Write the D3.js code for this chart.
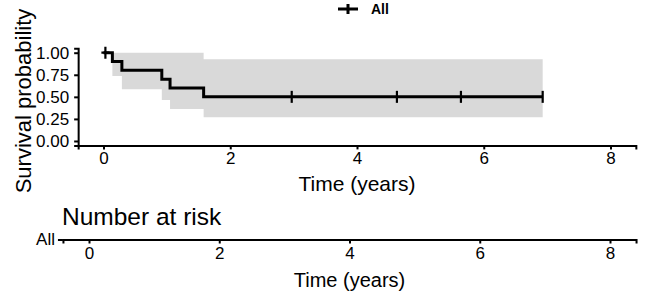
<!DOCTYPE html>
<html lang="en">
<head>
  <meta charset="UTF-8">
  <title>Kaplan-Meier survival curve</title>
  <script src="https://d3js.org/d3.v7.min.js"></script>
  <style>
    body { margin: 0; background: #fff; }
    svg { display: block; font-family: "Liberation Sans", Arial, sans-serif; }
    .axis path, .axis line { stroke: #000; stroke-width: 2px; }
    .axis text { fill: #000; }
  </style>
</head>
<body>
  <svg width="646" height="294"></svg>
  <script>
    // step data
    const times = [0, 0.14, 0.29, 0.92, 1.05, 1.58, 6.93];
    const surv  = [1, 0.9, 0.8, 0.7, 0.6, 0.5, 0.5];
    const lower = [1, 0.736, 0.585, 0.464, 0.362, 0.268, 0.268];
    const upper = [1, 1, 1, 1, 1, 0.925, 0.925];
    const censorTimes = [0.03, 2.97, 4.63, 5.64, 6.93];
    const xTicks = [0, 2, 4, 6, 8];
    const yTicks = [0, 0.25, 0.5, 0.75, 1];
    const strata = ["All"];

    const svg = d3.select("svg");
    const steps = times.map((t, i) => ({t, s: surv[i], lo: lower[i], hi: upper[i]}));

    // top panel scales (ggplot 5% expansion)
    const x = d3.scaleLinear().domain([-0.4, 8.4]).range([78.15, 635.85]);
    const y = d3.scaleLinear().domain([-0.05, 1.05]).range([145.4, 48.3]);

    // confidence band
    svg.append("path")
      .datum(steps)
      .attr("fill", "#d9d9d9")
      .attr("d", d3.area().curve(d3.curveStepAfter)
        .x(d => x(d.t)).y0(d => y(d.lo)).y1(d => y(d.hi)));

    // survival curve
    svg.append("path")
      .datum(steps)
      .attr("fill", "none")
      .attr("stroke", "#000")
      .attr("stroke-width", 3)
      .attr("d", d3.line().curve(d3.curveStepAfter).x(d => x(d.t)).y(d => y(d.s)));

    // censor marks
    const survAt = t => { let s = 1; steps.forEach(d => { if (d.t <= t) s = d.s; }); return s; };
    svg.selectAll(".censor")
      .data(censorTimes)
      .enter().append("path")
      .attr("class", "censor")
      .attr("stroke", "#000")
      .attr("stroke-width", 2.2)
      .attr("d", (t, i) => {
        const cy = y(survAt(t));
        return i === 0
          ? `M${x(t)},${cy - 6}V${cy + 6}M${x(t) - 4},${cy}H${x(t) + 4}`
          : `M${x(t)},${cy - 6}V${cy + 6}`;
      });

    // axes
    const xAxis = svg.append("g")
      .attr("class", "axis")
      .attr("transform", `translate(0,${y(-0.05)})`)
      .call(d3.axisBottom(x).tickValues(xTicks).tickSizeOuter(0).tickSize(4).tickPadding(3));
    xAxis.selectAll("text").style("font-size", "17px");

    const yAxis = svg.append("g")
      .attr("class", "axis")
      .attr("transform", `translate(${x(-0.4)},0)`)
      .call(d3.axisLeft(y).tickValues(yTicks).tickFormat(d3.format(".2f")).tickSizeOuter(0).tickSize(4).tickPadding(5));
    yAxis.selectAll("text").style("font-size", "17px");

    svg.append("text")
      .attr("x", (x(-0.4) + x(8.4)) / 2)
      .attr("y", 191)
      .attr("text-anchor", "middle")
      .style("font-size", "21px")
      .text("Time (years)");

    svg.append("text")
      .attr("transform", "translate(31,101) rotate(-90)")
      .attr("text-anchor", "middle")
      .style("font-size", "22px")
      .text("Survival probability");

    // legend
    const legend = svg.append("g").attr("transform", "translate(348,9)");
    legend.append("path")
      .attr("stroke", "#000").attr("stroke-width", 3)
      .attr("d", "M-10,0H10M0,-5V5");
    legend.append("text")
      .attr("x", 23).attr("y", 5)
      .style("font-size", "14px")
      .style("font-weight", "bold")
      .text(strata[0]);

    // risk table
    const xr = d3.scaleLinear().domain([-0.4, 8.4]).range([62.95, 636.05]);
    const riskY = 239.5;

    svg.append("text")
      .attr("x", 62).attr("y", 225)
      .style("font-size", "24.5px")
      .text("Number at risk");

    const rAxis = svg.append("g")
      .attr("class", "axis")
      .attr("transform", `translate(0,${riskY})`)
      .call(d3.axisBottom(xr).tickValues(xTicks).tickSizeOuter(0).tickSize(4).tickPadding(3));
    rAxis.selectAll("text").style("font-size", "17px");

    const rLeft = svg.append("g")
      .attr("class", "axis")
      .attr("transform", `translate(${xr(-0.4)},0)`)
      .call(d3.axisLeft(d3.scalePoint().domain(strata).range([riskY, riskY])).tickSize(5).tickPadding(3));
    rLeft.select(".domain").remove();
    rLeft.selectAll("text").style("font-size", "17px");

    svg.append("text")
      .attr("x", (xr(-0.4) + xr(8.4)) / 2)
      .attr("y", 287)
      .attr("text-anchor", "middle")
      .style("font-size", "20px")
      .text("Time (years)");
  </script>
</body>
</html>
